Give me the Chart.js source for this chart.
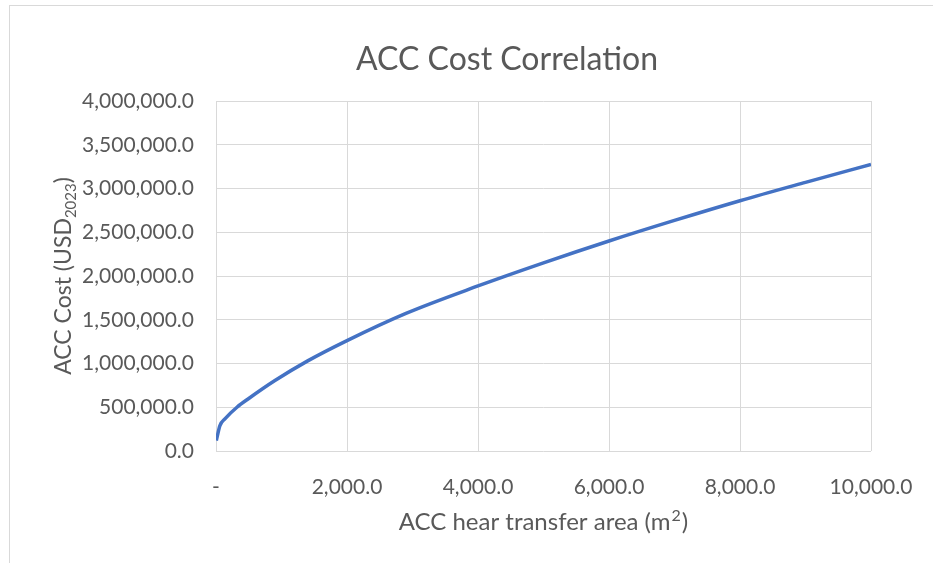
<!DOCTYPE html>
<html>
<head>
<meta charset="utf-8">
<script src="https://cdn.jsdelivr.net/npm/chart.js@4/dist/chart.umd.min.js"></script>
<style>
  html, body { margin: 0; padding: 0; background: #ffffff; }
  #wrap { width: 933px; height: 563px; }
</style>
</head>
<body>
<div id="wrap"><canvas id="c" width="933" height="563"></canvas></div>
<script>
// Heat transfer area (m2) and the matching air-cooled condenser cost (USD 2023)
const areaM2 = [5, 60, 140, 320, 500, 900, 1400, 2000, 2900, 4000, 5000, 6000, 7000, 8000, 9000, 10000];
const costUsd = [120000, 290000, 370000, 500000, 600000, 805000, 1030000, 1262000, 1573000, 1886000, 2150000, 2400000, 2635000, 2860000, 3070000, 3275000];

const xTicks = [0, 2000, 4000, 6000, 8000, 10000];
const yTicks = [0, 500000, 1000000, 1500000, 2000000, 2500000, 3000000, 3500000, 4000000];

const chartTitle = 'ACC Cost Correlation';
const xTitle = 'ACC hear transfer area (m';
const xTitleSup = '2';
const yTitleMain = 'ACC Cost (USD';
const yTitleSub = '2023';

const FONT = 'Lato, "Open Sans", sans-serif';
const TEXT = '#595959';
const GRID = '#d9d9d9';

const fmt = v => v.toLocaleString('en-US', { minimumFractionDigits: 1, maximumFractionDigits: 1 });

// Frame, chart title and axis titles (with sub/superscripts)
const decorations = {
  id: 'decorations',
  beforeDraw(chart) {
    const ctx = chart.ctx;
    ctx.save();
    ctx.fillStyle = '#ffffff';
    ctx.fillRect(0, 0, chart.width, chart.height);
    ctx.strokeStyle = GRID;
    ctx.lineWidth = 1;
    ctx.strokeRect(9.5, 5.5, 1000, 1000);
    ctx.restore();
  },
  afterDraw(chart) {
    const ctx = chart.ctx;
    const area = chart.chartArea;
    const cx = (area.left + area.right) / 2;
    const cy = (area.top + area.bottom) / 2;
    ctx.save();
    ctx.fillStyle = TEXT;
    ctx.textBaseline = 'alphabetic';

    // chart title
    ctx.font = '32px ' + FONT;
    ctx.textAlign = 'center';
    ctx.fillText(chartTitle, 507, 70);

    // x axis title with superscript
    const size = 23;
    const xs = 24;
    const smallX = Math.round(xs * 0.65);
    ctx.font = xs + 'px ' + FONT;
    const w1 = ctx.measureText(xTitle).width;
    ctx.font = smallX + 'px ' + FONT;
    const w2 = ctx.measureText(xTitleSup).width + 2;
    ctx.font = xs + 'px ' + FONT;
    const w3 = ctx.measureText(')').width;
    const start = cx - (w1 + w2 + w3) / 2;
    ctx.textAlign = 'left';
    ctx.fillText(xTitle, start, 530);
    ctx.font = smallX + 'px ' + FONT;
    ctx.fillText(xTitleSup, start + w1 + 1, 530 - xs * 0.38);
    ctx.font = xs + 'px ' + FONT;
    ctx.fillText(')', start + w1 + w2, 530);

    // y axis title, rotated, with subscript
    const small = Math.round(size * 0.65);
    ctx.translate(71, cy);
    ctx.rotate(-Math.PI / 2);
    ctx.font = size + 'px ' + FONT;
    const a = ctx.measureText(yTitleMain).width;
    ctx.font = small + 'px ' + FONT;
    const b = ctx.measureText(yTitleSub).width;
    ctx.font = size + 'px ' + FONT;
    const c = ctx.measureText(')').width;
    const s = -(a + b + c) / 2;
    ctx.fillText(yTitleMain, s, 0);
    ctx.font = small + 'px ' + FONT;
    ctx.fillText(yTitleSub, s + a, size * 0.2);
    ctx.font = size + 'px ' + FONT;
    ctx.fillText(')', s + a + b, 0);
    ctx.restore();
  }
};

new Chart(document.getElementById('c'), {
  type: 'line',
  data: {
    datasets: [{
      data: areaM2.map((x, i) => ({ x, y: costUsd[i] })),
      borderColor: '#4472C4',
      borderWidth: 3.5,
      pointRadius: 0,
      fill: false,
      cubicInterpolationMode: 'monotone'
    }]
  },
  options: {
    responsive: false,
    animation: false,
    devicePixelRatio: 1,
    layout: { padding: { top: 101, left: 0, right: 62, bottom: 0 } },
    plugins: { legend: { display: false }, title: { display: false }, tooltip: { enabled: false } },
    scales: {
      x: {
        type: 'linear',
        min: 0, max: 10000,
        afterBuildTicks(scale) { scale.ticks = xTicks.map(v => ({ value: v })); },
        afterFit(scale) {
          scale.height = 112;
          scale.paddingLeft = 0;
          scale.paddingRight = 0;
        },
        grid: { color: GRID, lineWidth: 1, drawTicks: false },
        border: { display: false },
        ticks: {
          color: TEXT,
          font: { family: FONT, size: 21 },
          padding: 24,
          maxRotation: 0,
          callback: v => v === 0 ? '-' : fmt(v)
        }
      },
      y: {
        type: 'linear',
        min: 0, max: 4000000,
        afterBuildTicks(scale) { scale.ticks = yTicks.map(v => ({ value: v })); },
        afterFit(scale) {
          scale.width = 216;
          scale.paddingTop = 0;
          scale.paddingBottom = 0;
        },
        grid: { color: GRID, lineWidth: 1, drawTicks: false },
        border: { display: false },
        ticks: {
          color: TEXT,
          font: { family: FONT, size: 21 },
          padding: 22,
          callback: v => fmt(v)
        }
      }
    }
  },
  plugins: [decorations]
});
</script>
</body>
</html>
